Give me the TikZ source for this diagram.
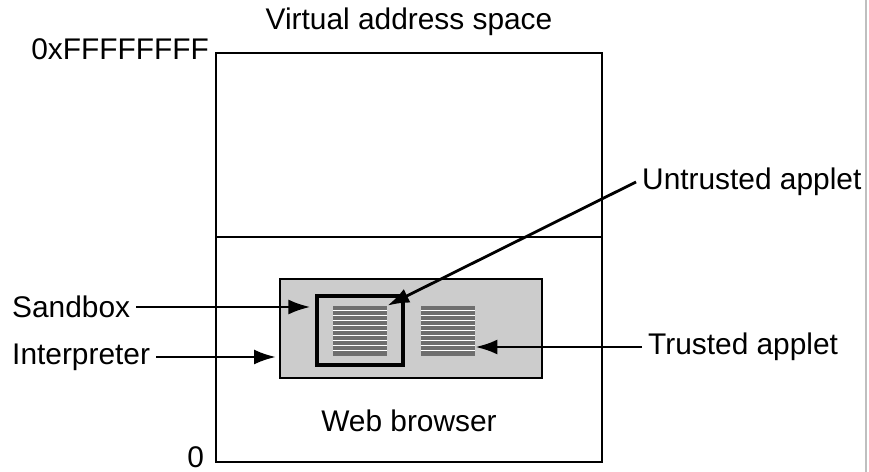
\documentclass[tikz,border=0pt]{standalone}
\usepackage{fontspec}
\setmainfont{Liberation Sans}
\usetikzlibrary{arrows.meta}
\usetikzlibrary{positioning}

\begin{document}
\begin{tikzpicture}[x=0.02cm, y=-0.02cm]
\definecolor{browsergray}{HTML}{CCCCCC}
\definecolor{appletgray}{HTML}{6E6E6E}
\tikzstyle{region}=[rectangle, draw, line width=0.9pt, inner sep=0pt]
\tikzstyle{tag}=[font=\fontsize{17}{20}\selectfont]
\tikzstyle{applet}=[rectangle, fill=appletgray, inner sep=0pt, minimum width=1.08cm, minimum height=1cm]
\tikzstyle{pointer}=[-{Latex[length=4.4mm,width=3mm]}, line width=1.6pt]

\useasboundingbox (0,0) rectangle (869,472);

% address space
\node[region, minimum width=7.72cm, minimum height=3.68cm] (upper) at (409,145) {};
\node[region, minimum width=7.72cm, minimum height=4.5cm] (lower) at (409,349.5) {};
\node[tag] (vas) at (409,22) {Virtual address space};
\node[tag, anchor=east] (top) at (215,49) {0xFFFFFFFF};
\node[tag, anchor=south east, inner sep=1pt] (bottom) at (206,470) {0};

% browser with its applets
\node[region, fill=browsergray, line width=1.1pt, minimum width=5.24cm, minimum height=1.98cm] (browser) at (411,328.5) {};
\node[region, line width=1.8pt, minimum width=1.72cm, minimum height=1.38cm] (sandbox) at (360,330.5) {};
\node[applet] (ua) at (360,331) {};
\node[applet] (ta) at (448,331) {};
\foreach \a in {ua,ta}
  \foreach \k in {1,...,9}
    \draw[white, line width=0.35pt] ([yshift=-\k mm]\a.north west) -- ([yshift=-\k mm]\a.north east);
\node[tag] (wb) at (409,421) {Web browser};

% labels
\node[tag, anchor=west] (sb) at (6,307) {Sandbox};
\node[tag, anchor=west] (ip) at (6,357) {Interpreter};
\node[tag, anchor=west] (ut) at (636,182) {Untrusted applet};
\node[tag, anchor=west] (tr) at (642,347) {Trusted applet};

\draw[pointer, shorten >=1mm] (sb.east) -- (sandbox.west |- sb.east);
\draw[pointer, shorten >=0.6mm] (ip.east) -- (browser.west |- ip.east);
\draw[pointer] (ut.west) -- (ua.north east);
\draw[pointer] (tr.west) -- (ta.east |- tr.west);

\draw[gray!50, line width=0.8pt] (866,0) -- (866,472);
\end{tikzpicture}
\end{document}
